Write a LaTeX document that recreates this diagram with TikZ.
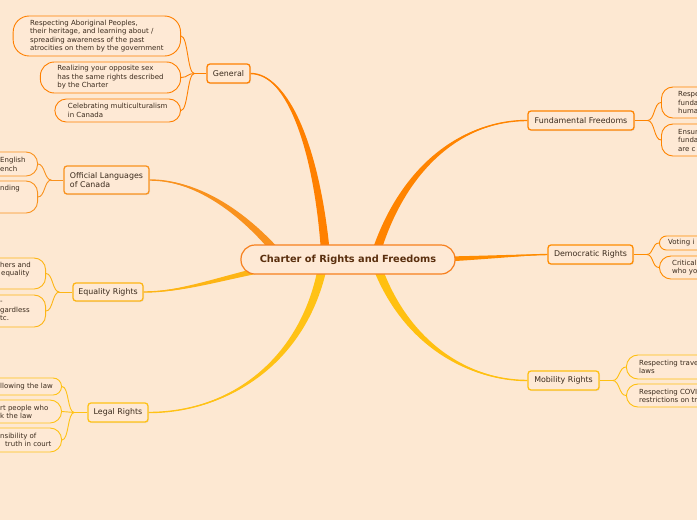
\documentclass[tikz,border=0pt]{standalone}
\usepackage{fontspec}
\setmainfont{DejaVu Sans}
\usetikzlibrary{calc,shadows}
\definecolor{bg}{HTML}{FDE8D2}
\definecolor{nodefill}{HTML}{FEE9D5}
\definecolor{txt}{HTML}{3A2A1C}
\definecolor{ctxt}{HTML}{5A2F0E}
\definecolor{cC}{HTML}{F7801E}
\definecolor{cG}{HTML}{FF8000}
\definecolor{cO}{HTML}{F9921E}
\definecolor{cE}{HTML}{FDB515}
\definecolor{cL}{HTML}{FFC215}
\definecolor{cF}{HTML}{FF8400}
\definecolor{cD}{HTML}{FF8C00}
\definecolor{cM}{HTML}{FFC010}
\pgfdeclarelayer{back}\pgfdeclarelayer{links}\pgfsetlayers{back,links,main}
\tikzset{
 rootbox/.style={draw=cC, line width=1.2pt, fill=nodefill, rounded corners=14pt, minimum width=214pt, minimum height=29pt, font=\fontsize{9.8}{11}\selectfont\bfseries, text=ctxt, inner sep=0pt},
 topicbox/.style={draw=#1, line width=1.3pt, fill=nodefill, rounded corners=3pt, font=\fontsize{7.9}{9.7}\selectfont, text=txt, inner sep=0pt, drop shadow={opacity=0.12, shadow xshift=1pt, shadow yshift=-1pt}},
 leafbox/.style={draw=#1, line width=0.9pt, fill=nodefill, rounded corners=11.5pt, inner sep=0pt, font=\fontsize{7}{8.5}\selectfont, text=txt},
 leaftext/.style={font=\fontsize{7}{8.5}\selectfont, text=txt, inner sep=0pt, align=left, anchor=west},
 twig/.style={draw=#1, line width=0.9pt},
}
\newcommand\taper[6]{%
 \fill[#1] ($#2+#3$) .. controls ($#4+0.667*#3$) and ($#5+0.333*#3$) .. #6 .. controls ($#5-0.333*#3$) and ($#4-0.667*#3$) .. ($#2-#3$) -- cycle;
 \draw[#1, line width=1.4pt] ($#2$) .. controls #4 and #5 .. #6;
}
\begin{document}
\begin{tikzpicture}[x=1pt,y=-1pt]
\useasboundingbox (0,0) rectangle (697,520);
\begin{pgfonlayer}{back}
\fill[bg] (0,0) rectangle (697,520);
\end{pgfonlayer}
% root and topics
\node[rootbox] (c) at (348,259.5) {Charter of Rights and Freedoms};
\node[topicbox=cG, minimum width=43pt, minimum height=19pt] (gen) at (228.5,73.5) {General};
\node[topicbox=cO, minimum width=85pt, minimum height=28pt, align=left] (off) at (106.5,180) {Official Languages\\of Canada};
\node[topicbox=cE, minimum width=70pt, minimum height=18pt] (equ) at (108,292) {Equality Rights};
\node[topicbox=cL, minimum width=60pt, minimum height=19pt] (leg) at (118,412.5) {Legal Rights};
\node[topicbox=cF, minimum width=106pt, minimum height=19pt] (fun) at (581,120.5) {Fundamental Freedoms};
\node[topicbox=cD, minimum width=85pt, minimum height=19pt] (dem) at (590.5,254.5) {Democratic Rights};
\node[topicbox=cM, minimum width=71pt, minimum height=19pt] (mob) at (563.5,380.5) {Mobility Rights};
% General leaves
\node[leafbox=cG, rounded corners=16pt, minimum height=40pt, inner xsep=17pt, align=left, anchor=east] (g1) at (181,36) {Respecting Aboriginal Peoples,\\their heritage, and learning about /\\spreading awareness of the past\\atrocities on them by the government};
\node[leafbox=cG, rounded corners=14pt, minimum height=31pt, inner xsep=17pt, align=left, anchor=east] (g2) at (181,77.5) {Realizing your opposite sex\\has the same rights described\\by the Charter};
\node[leafbox=cG, minimum height=23pt, inner xsep=13pt, align=left, anchor=east] (g3) at (181,110.5) {Celebrating multiculturalism\\in Canada};
% Official languages leaves
\node[leafbox=cO, minimum width=80pt, minimum height=24pt, anchor=east] (o1) at (38,164) {};
\node[leaftext] (o1t) at (0,164.5) {English\\ench};
\node[leafbox=cO, minimum width=80pt, minimum height=32pt, anchor=east] (o2) at (38,197) {};
\node[leaftext] (o2t) at (0,189) {nding};
% Equality leaves
\node[leafbox=cE, minimum width=80pt, minimum height=31pt, anchor=east] (e1) at (46,273.5) {};
\node[leaftext] (e1t) at (0,269.5) {hers and\\\hspace*{1pt}equality};
\node[leafbox=cE, minimum width=80pt, minimum height=32pt, anchor=east] (e2) at (46,311) {};
\node[leaftext] (e2t) at (0,311) {-\\gardless\\tc.};
% Legal leaves
\node[leafbox=cL, rounded corners=8.5pt, minimum width=100pt, minimum height=17pt, anchor=east] (l1) at (62,386.5) {};
\node[leaftext] (l1t) at (0,386.5) {llowing the law};
\node[leafbox=cL, minimum width=100pt, minimum height=23pt, anchor=east] (l2) at (62,411.5) {};
\node[leaftext] (l2t) at (0,412) {rt people who\\k the law};
\node[leafbox=cL, minimum width=100pt, minimum height=24pt, anchor=east] (l3) at (62,440) {};
\node[leaftext] (l3t) at (0,440) {nsibility of\\\hspace*{5pt}truth in court};
% Fundamental leaves
\node[leafbox=cF, minimum width=80pt, minimum height=31pt, anchor=west] (f1) at (661,102.5) {};
\node[leaftext] (f1t) at (678,102.5) {Respe\\funda\\huma};
\node[leafbox=cF, minimum width=80pt, minimum height=32pt, anchor=west] (f2) at (661,140) {};
\node[leaftext] (f2t) at (678,140) {Ensur\\funda\\are c};
% Democratic leaves
\node[leafbox=cD, rounded corners=7pt, minimum width=60pt, minimum height=14pt, anchor=west] (d1) at (659,243) {};
\node[leaftext] (d1t) at (668,243) {Voting i};
\node[leafbox=cD, minimum width=60pt, minimum height=23pt, anchor=west] (d2) at (659,267.5) {};
\node[leaftext] (d2t) at (672,267.5) {Critical\\who yo};
% Mobility leaves
\node[leafbox=cM, minimum width=100pt, minimum height=24pt, anchor=west] (m1) at (626,367) {};
\node[leaftext] (m1t) at (639,367) {Respecting trave\\laws};
\node[leafbox=cM, minimum width=100pt, minimum height=23pt, anchor=west] (m2) at (626,395.5) {};
\node[leaftext] (m2t) at (639,396) {Respecting COVI\\restrictions on tr};
% links
\begin{pgfonlayer}{links}
\taper{cG}{(c)+(-22,0)}{(4.5,0)}{(318,150)}{(288,73.5)}{(gen.east)}
\taper{cO}{(c)+(-72,-8)}{(3,-2.6)}{(240,210)}{(195,180)}{(off.east)}
\taper{cE}{(c)+(-85,10)}{(0.6,2.9)}{(215,280)}{(180,292)}{(equ.east)}
\taper{cL}{(c)+(-25,5)}{(4.4,0.8)}{(305,360)}{(230,412.5)}{(leg.east)}
\taper{cF}{(c)+(26,0)}{(4.3,1.3)}{(400,170)}{(460,120.5)}{(fun.west)}
\taper{cD}{(c)+(85,0)}{(0,2.8)}{(480,258)}{(520,255)}{(dem.west)}
\taper{cM}{(c)+(28,4)}{(4.2,-1.5)}{(405,345)}{(470,380.5)}{(mob.west)}
% twigs
\draw[twig=cG] (gen.west) -- ++(-12,0) coordinate (gf);
\foreach \n in {g1,g2,g3} \draw[twig=cG] (gf) .. controls +(-7,0) and +(7,0) .. (\n.east);
\draw[twig=cO] (off.west) -- ++(-12,0) coordinate (of);
\foreach \n in {o1,o2} \draw[twig=cO] (of) .. controls +(-7,0) and +(7,0) .. (\n.east);
\draw[twig=cE] (equ.west) -- ++(-13,0) coordinate (ef);
\foreach \n in {e1,e2} \draw[twig=cE] (ef) .. controls +(-7,0) and +(7,0) .. (\n.east);
\draw[twig=cL] (leg.west) -- ++(-13,0) coordinate (lf);
\foreach \n in {l1,l2,l3} \draw[twig=cL] (lf) .. controls +(-7,0) and +(7,0) .. (\n.east);
\draw[twig=cF] (fun.east) -- ++(13,0) coordinate (ff);
\foreach \n in {f1,f2} \draw[twig=cF] (ff) .. controls +(7,0) and +(-7,0) .. (\n.west);
\draw[twig=cD] (dem.east) -- ++(13,0) coordinate (df);
\foreach \n in {d1,d2} \draw[twig=cD] (df) .. controls +(7,0) and +(-7,0) .. (\n.west);
\draw[twig=cM] (mob.east) -- ++(13,0) coordinate (mf);
\foreach \n in {m1,m2} \draw[twig=cM] (mf) .. controls +(7,0) and +(-7,0) .. (\n.west);
\end{pgfonlayer}
\end{tikzpicture}
\end{document}
